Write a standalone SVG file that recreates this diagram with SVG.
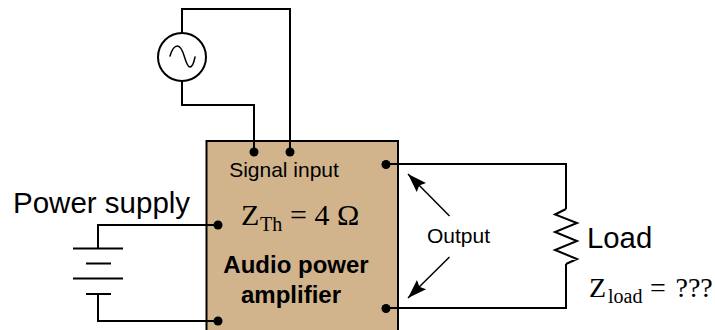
<svg xmlns="http://www.w3.org/2000/svg" width="715" height="330" viewBox="0 0 715 330">
<style>
.w{fill:none;stroke:#000;stroke-width:2}
.t{fill:none;stroke:#000;stroke-width:1.500}
.d{fill:#000}
.s{font-family:"Liberation Sans",Arial,sans-serif;fill:#000}
.m{font-family:"Liberation Serif","Times New Roman",serif;fill:#000}
</style>
<defs><marker id="a" markerUnits="userSpaceOnUse" markerWidth="22" markerHeight="16" refX="20" refY="8" orient="auto"><path d="M20 8L1 1.500L4 8L1 14.500Z" fill="#000"/></marker></defs>
<rect width="715" height="330" fill="#fff"/>
<g id="amplifier">
<rect x="206.500" y="141" width="191.500" height="195" fill="#d2b48c" stroke="#000" stroke-width="2"/>
<text class="s" x="284" y="177" font-size="21" text-anchor="middle">Signal input</text>
<text class="m" x="241" y="225" font-size="30">Z</text>
<text class="m" x="260" y="231" font-size="20">Th</text>
<text class="m" x="290" y="225" font-size="30">= 4 Ω</text>
<text class="s" x="296" y="273" font-size="24" font-weight="bold" text-anchor="middle">Audio power</text>
<text class="s" x="291" y="303" font-size="24" font-weight="bold" text-anchor="middle">amplifier</text>
</g>
<g id="connectors">
<path class="w" d="M182 33V9H290V152M182 81V105H254V152"/>
<path class="w" d="M218 225H98V248M218 321H98V294"/>
<path class="w" d="M386 164H566V209M386 308H566V264"/>
<circle class="d" cx="254" cy="152" r="4.500"/>
<circle class="d" cx="290" cy="152" r="4.500"/>
<circle class="d" cx="218" cy="225" r="4.500"/>
<circle class="d" cx="218" cy="321" r="4.500"/>
<circle class="d" cx="386" cy="164.500" r="4.500"/>
<circle class="d" cx="386" cy="308.500" r="4.500"/>
</g>
<g id="source">
<circle cx="182" cy="57" r="24" fill="#fff" stroke="#000" stroke-width="2"/>
<path class="t" d="M170 56C172 49 175 46 177.500 46C181 46 183 52 184.500 57C186 62 188 67 190 67C192.500 67 194 62 195 57" stroke-linecap="round"/>
</g>
<g id="battery">
<path class="w" d="M73 248.500H123M86 263.500H111M73 278.500H123M86 294H111"/>
<text class="s" x="13" y="212.500" font-size="29.500">Power supply</text>
</g>
<g id="load">
<path class="w" d="M566 209L555 214.500L577 223L555 232L577 241L555 250L577 259L566 264"/>
<text class="s" x="587" y="248" font-size="29.300">Load</text>
<text class="m" x="589" y="297" font-size="28">Z</text>
<text class="m" x="608" y="303" font-size="20">load</text>
<text class="m" x="650" y="297" font-size="28">=</text>
<text class="m" x="675.500" y="297" font-size="28">???</text>
</g>
<g id="output">
<text class="s" x="458.500" y="243" font-size="21" text-anchor="middle">Output</text>
<path class="t" d="M449.500 216L408 174" marker-end="url(#a)"/>
<path class="t" d="M449.500 257L408 298" marker-end="url(#a)"/>
</g>
</svg>
